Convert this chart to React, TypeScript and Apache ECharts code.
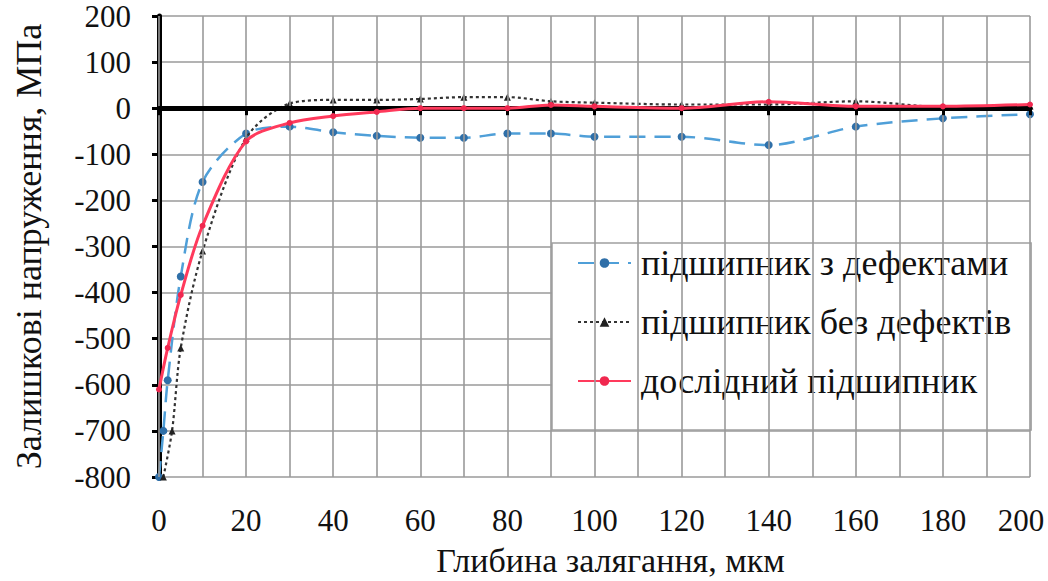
import React, { useEffect, useRef } from "react";
import * as echarts from "echarts";

const xTicks = [0, 20, 40, 60, 80, 100, 120, 140, 160, 180, 200];
const yTicks = [200, 100, 0, -100, -200, -300, -400, -500, -600, -700, -800];

const seriesNames = ["підшипник з дефектами", "підшипник без дефектів", "дослідний підшипник"];

const withDefectsX = [0, 1, 2, 5, 10, 20, 30, 40, 50, 60, 70, 80, 90, 100, 120, 140, 160, 180, 200];
const withDefectsY = [-800, -700, -590, -365, -160, -55, -40, -52, -60, -64, -64, -55, -55, -62, -62, -80, -40, -22, -13];

const noDefectsX = [1, 3, 5, 10, 20, 30, 40, 50, 60, 70, 80, 90, 100, 120, 140, 160, 180, 200];
const noDefectsY = [-800, -700, -520, -310, -65, 10, 18, 18, 20, 24, 24, 15, 12, 8, 8, 15, 3, 5];

const testedX = [0, 2, 5, 10, 20, 30, 40, 50, 60, 70, 80, 90, 100, 120, 140, 160, 180, 200];
const testedY = [-610, -520, -405, -255, -72, -32, -17, -8, 0, 0, 0, 7, 4, 0, 14, 4, 4, 8];

const yTitle = "Залишкові напруження, МПа";
const xTitle = "Глибина залягання, мкм";

const zip = (xs: number[], ys: number[]) => xs.map((x, i) => [x, ys[i]]);

export default function App() {
  const ref = useRef<HTMLDivElement>(null);
  useEffect(() => {
    if (!ref.current) return;
    const chart = echarts.init(ref.current, undefined, { renderer: "svg" });
    const font = "serif";
    const xMax = xTicks[xTicks.length - 1];
    chart.setOption({
      animation: false,
      backgroundColor: "#fff",
      textStyle: { fontFamily: font },
      grid: { left: 159, right: 18, top: 16, bottom: 104, containLabel: false, outerBoundsMode: "none" },
      legend: {
        orient: "vertical",
        left: 552,
        top: 243,
        padding: [2, 20, 31, 25],
        itemGap: 23,
        itemWidth: 53,
        itemHeight: 12,
        backgroundColor: "#fff",
        borderColor: "#a0a0a0",
        borderWidth: 1.5,
        borderRadius: 0,
        textStyle: { fontFamily: font, fontSize: 36, lineHeight: 36, color: "#111", padding: [0, 0, 0, 5] },
        data: seriesNames,
      },
      xAxis: [
        {
          type: "value",
          min: xTicks[0],
          max: xMax,
          interval: 20,
          axisLine: { show: true, onZero: true, lineStyle: { color: "#000", width: 5 } },
          axisTick: { show: true, inside: false, length: 7, lineStyle: { color: "#000", width: 3 } },
          axisLabel: { show: false },
          splitLine: { show: true, lineStyle: { color: "#9a9a9a", width: 1.6 } },
          minorTick: { show: false, splitNumber: 2 },
          minorSplitLine: { show: true, lineStyle: { color: "#9a9a9a", width: 1.6 } },
          z: 5,
        },
        {
          type: "value",
          position: "bottom",
          min: xTicks[0],
          max: xMax,
          interval: 20,
          axisLine: { show: false, onZero: false },
          axisTick: { show: false },
          splitLine: { show: false },
          name: xTitle,
          nameLocation: "middle",
          nameGap: 66,
          nameTextStyle: { fontFamily: font, fontSize: 34, color: "#111", padding: [0, 0, 0, 32] },
          axisLabel: {
            margin: 28,
            fontFamily: font,
            fontSize: 31,
            color: "#111",
            formatter: (v: number) => (v === xMax ? `{last|${v}}` : `${v}`),
            rich: { last: { fontFamily: font, fontSize: 31, color: "#111", padding: [0, 18, 0, 0] } },
          },
        },
      ],
      yAxis: {
        type: "value",
        min: yTicks[yTicks.length - 1],
        max: yTicks[0],
        interval: 100,
        axisLine: { show: true, onZero: false, lineStyle: { color: "#000", width: 5 } },
        axisTick: { show: true, length: 7, lineStyle: { color: "#000", width: 3 } },
        axisLabel: { margin: 28, fontFamily: font, fontSize: 31, lineHeight: 28, color: "#111" },
        splitLine: { show: true, lineStyle: { color: "#9a9a9a", width: 1.6 } },
        name: yTitle,
        nameLocation: "middle",
        nameGap: 112,
        nameTextStyle: { fontFamily: font, fontSize: 36, color: "#111" },
      },
      series: [
        {
          name: seriesNames[0],
          type: "line",
          xAxisIndex: 0,
          data: zip(withDefectsX, withDefectsY),
          smooth: 0.3,
          symbol: "circle",
          symbolSize: 8,
          itemStyle: { color: "#2f6fa8" },
          lineStyle: { color: "#4f9fd8", width: 2.5, type: [16, 9] },
          z: 3,
        },
        {
          name: seriesNames[1],
          type: "line",
          xAxisIndex: 0,
          data: zip(noDefectsX, noDefectsY),
          smooth: 0.3,
          symbol: "triangle",
          symbolSize: 7,
          itemStyle: { color: "#222" },
          lineStyle: { color: "#333", width: 2.2, type: [3, 3] },
          z: 4,
        },
        {
          name: seriesNames[2],
          type: "line",
          xAxisIndex: 0,
          data: zip(testedX, testedY),
          smooth: 0.3,
          symbol: "circle",
          symbolSize: 6,
          itemStyle: { color: "#f0284f" },
          lineStyle: { color: "#ff3a5c", width: 3 },
          z: 6,
        },
      ],
    });
    return () => chart.dispose();
  }, []);
  return <div ref={ref} style={{ width: 1048, height: 581, position: "absolute", left: 0, top: 0 }} />;
}
